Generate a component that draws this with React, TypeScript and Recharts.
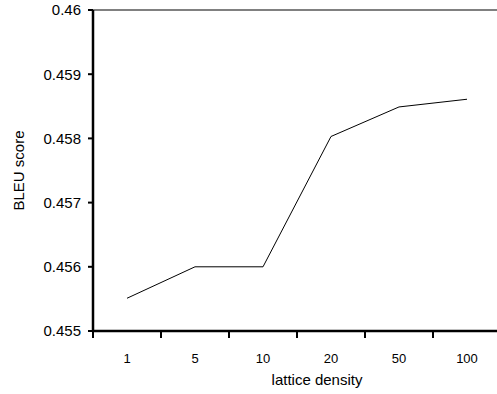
import React from "react";
import { LineChart, Line, XAxis, YAxis, ReferenceLine } from "recharts";

const densities = ["1", "5", "10", "20", "50", "100"];
const bleuScores = [0.45551, 0.456, 0.456, 0.45803, 0.45849, 0.45861];
const yTicks = [0.455, 0.456, 0.457, 0.458, 0.459, 0.46];

const data = densities.map((d, i) => ({ density: d, bleu: bleuScores[i] }));

const FONT = "'Liberation Sans', Arial, sans-serif";

// category labels sit mid-band, the little tick marks sit on the band edges
const XTick = (props: any) => {
  const { x, y, payload, index } = props;
  const half = payload.offset || 34;
  return (
    <g>
      <line x1={x + half} y1={y} x2={x + half} y2={y + 7} style={{ stroke: "#000", strokeWidth: 2 }} />
      {index === 0 ? (
        <line x1={x - half} y1={y} x2={x - half} y2={y + 7} style={{ stroke: "#000", strokeWidth: 2 }} />
      ) : null}
      <text x={x} y={y + 32} textAnchor="middle" fontSize={13} fontFamily={FONT} fill="#000">
        {payload.value}
      </text>
    </g>
  );
};

const titleStyle: React.CSSProperties = {
  position: "absolute",
  fontFamily: FONT,
  fontSize: 15,
  lineHeight: "17px",
  color: "#000",
  textAlign: "center",
  whiteSpace: "nowrap",
};

export default function App() {
  return (
    <div style={{ position: "absolute", left: 0, top: 0, width: 497, height: 394, overflow: "hidden", background: "#fff" }}>
      <LineChart width={505} height={394} data={data} margin={{ top: 10, right: 4, left: 0, bottom: 0 }}>
        <ReferenceLine y={0.46} stroke="#808080" strokeWidth={2} />
        <Line type="linear" dataKey="bleu" stroke="#000" strokeWidth={1} dot={false} activeDot={false} isAnimationActive={false} />
        <XAxis
          dataKey="density"
          scale="band"
          axisLine={{ stroke: "#000000", strokeWidth: 2.5 }}
          tickLine={false}
          tickSize={0}
          tickMargin={0}
          height={63}
          tick={<XTick />}
          interval={0}
        />
        <YAxis
          width={93}
          domain={[0.455, 0.46]}
          ticks={yTicks}
          allowDataOverflow
          axisLine={{ stroke: "#000000", strokeWidth: 2.5 }}
          tickLine={{ stroke: "#000000", strokeWidth: 2 }}
          tickSize={5}
          tickMargin={7}
          tick={{ fontSize: 15, fontFamily: FONT, fill: "#000" }}
          tickFormatter={(v: number) => String(Number(v.toFixed(3)))}
        />
      </LineChart>
      {/* axis titles */}
      <div style={{ ...titleStyle, left: 217, top: 371, width: 200 }}>lattice density</div>
      <div style={{ ...titleStyle, left: -42.5, top: 161.5, width: 120, transform: "rotate(-90deg)" }}>BLEU score</div>
    </div>
  );
}
